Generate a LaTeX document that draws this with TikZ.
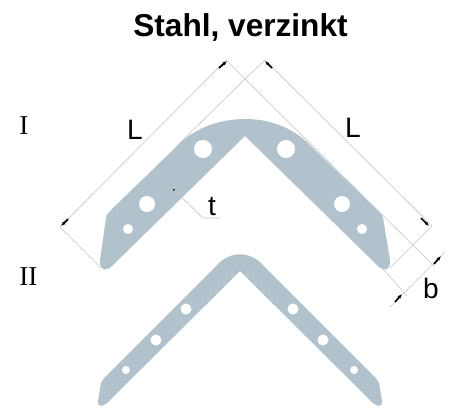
\documentclass[tikz,border=0pt]{standalone}
\usepackage{fontspec}
\setmainfont{Liberation Sans}
\newfontfamily\romanfont{Liberation Serif}
\usetikzlibrary{arrows.meta}
\definecolor{zinc}{HTML}{B2C2CC}
\definecolor{dimline}{HTML}{C4C4C4}
\tikzset{
  plate/.style={fill=zinc,draw=none},
  hole/.style={fill=white,draw=none},
  dimension/.style={draw=dimline,line width=0.35pt},
  tick/.style={draw=black,line width=1pt,line cap=butt,-{Latex[length=2.6pt,width=2.2pt]}},
  letter/.style={font=\fontsize{16}{16}\selectfont,inner sep=0pt},
  rownum/.style={font=\romanfont\fontsize{15.5}{16}\selectfont,inner sep=0pt},
}
\begin{document}
\begin{tikzpicture}[x=0.02cm,y=-0.02cm]
\useasboundingbox (0,0) rectangle (450,407);
\node[inner sep=0pt,font=\bfseries\fontsize{18}{18}\selectfont] (title) at (240.5,27) {Stahl, verzinkt};
\node[rownum] (one) at (24,126) {I};
\node[rownum] (two) at (28.5,277) {II};

% plate I
\draw[plate] (245,136) -- (113,265) .. controls (108,271) and (99,272) .. (100,260)
  -- (106,218) .. controls (107,214) and (108,213) .. (110,211)
  -- (178,145) .. controls (196,127) and (221,119) .. (245,119)
  .. controls (269,119) and (292,127) .. (310,145)
  -- (378,211) .. controls (381,214) and (382,214) .. (383,218)
  -- (390,260) .. controls (391,272) and (382,271) .. (377,265) -- cycle;
\foreach \x/\y/\r in {203/149/9,147/204/8,128/229/5,286/149/9,342/204/8,362/229/5}
  \fill[hole] (\x,\y) circle (\r);

% plate II
\draw[plate] (240,271) -- (107,403) .. controls (103,407) and (97,407) .. (98,401)
  -- (101,383) .. controls (102,380) and (102,380) .. (104,378)
  -- (218,264) .. controls (231,251) and (249,251) .. (262,264)
  -- (376,378) .. controls (378,380) and (378,380) .. (379,383)
  -- (382,401) .. controls (383,407) and (377,407) .. (373,403) -- cycle;
\foreach \x/\y/\r in {186/309/5.5,156/340/5.5,126/370/4,293/309/5.5,323/340/5.5,354/370/4}
  \fill[hole] (\x,\y) circle (\r);

% dimensions
\coordinate (top) at (245,79);
\coordinate (la) at (226,60);
\coordinate (lb) at (60,227);
\coordinate (lc) at (101,268);
\coordinate (ra) at (265,60);
\coordinate (rb) at (432,226);
\coordinate (rc) at (390,268);
\coordinate (ba) at (445,252);
\coordinate (bb) at (390,307);
\coordinate (be) at (434,266);
\coordinate (bf) at (407,296);
\draw[dimension] (la) -- (lb) -- (lc);
\draw[dimension] (ra) -- (rb) -- (rc);
\draw[dimension] (la) -- (top) -- (be);
\draw[dimension] (ra) -- (top) -- (178,145);
\draw[dimension] (383,269) -- (bf);
\draw[dimension] (ba) -- (bb);
\foreach \xa/\ya/\xb/\yb in {219/68/227/61, 68/219/61/226, 272/68/265/61, 421/218/429/226, 434/264/441/256, 395/302/402/294}
  \draw[tick] (\xa,\ya) -- (\xb,\yb);

% labels
\node[letter] (l1) at (135,130) {L};
\node[letter] (l2) at (353,128) {L};
\node[letter] (t) at (212,207) {t};
\node[letter] (b) at (431,288) {b};
\coordinate (lead) at (203,218);
\coordinate (leadend) at (220,218);
\fill (174,190) circle (1.2);
\draw[dimension] (174,190) -- (lead) -- (leadend);
\end{tikzpicture}
\end{document}
